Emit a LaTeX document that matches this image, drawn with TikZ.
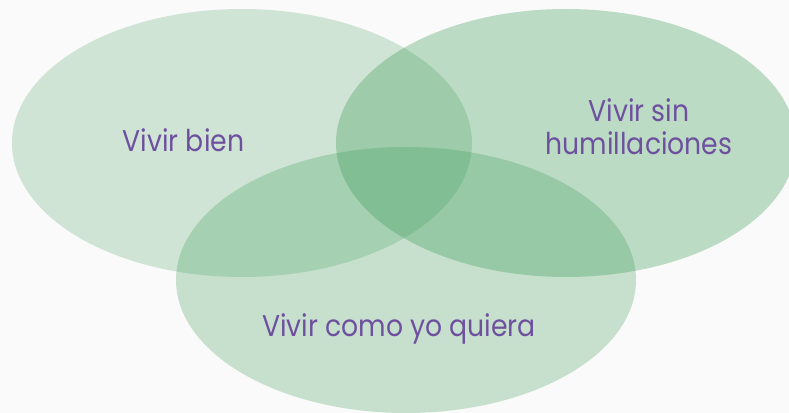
\documentclass[tikz,border=0pt]{standalone}
\usepackage{fontspec}
\setmainfont{Poppins}[FakeStretch=0.89]
\usepackage{tikz}
\definecolor{vennGreen}{RGB}{47,149,76}
\definecolor{vennText}{RGB}{110,80,158}
\definecolor{vennBack}{RGB}{250,250,250}
\tikzset{setlabel/.style={text=vennText, inner sep=0pt, anchor=base, align=center,
    font=\fontsize{22.5}{24.75}\selectfont}}

\begin{document}
\begin{tikzpicture}[x=0.75pt,y=0.75pt,yscale=-1,xscale=1]
%set diagram canvas 789 x 413
\fill[vennBack] (0,0) rectangle (789,413);
\useasboundingbox (0,0) rectangle (789,413);

%Shape: Ellipse [left set]
\fill[vennGreen, fill opacity=0.21] (242,143) ellipse [x radius=230, y radius=134];
%Shape: Ellipse [right set]
\fill[vennGreen, fill opacity=0.30] (566,143) ellipse [x radius=230, y radius=134];
%Shape: Ellipse [bottom set]
\fill[vennGreen, fill opacity=0.25] (406,280) ellipse [x radius=230, y radius=133];

% Text Node
\node[setlabel] (bien) at (183.5,152) {Vivir bien};
% Text Node (base = last line)
\node[setlabel] (sin) at (639,155) {Vivir sin\\humillaciones};
% Text Node
\node[setlabel] (quiera) at (399,337) {Vivir como yo quiera};

\end{tikzpicture}
\end{document}
